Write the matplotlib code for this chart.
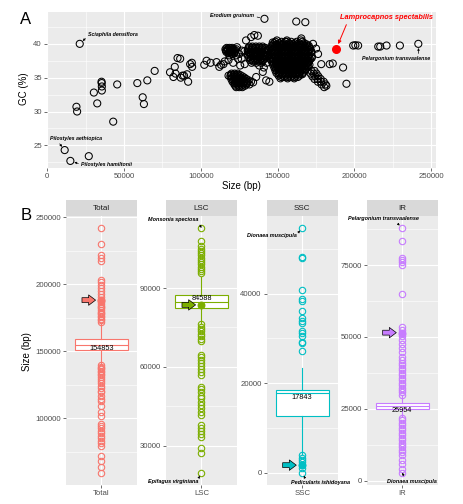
import matplotlib
matplotlib.use("Agg")
import matplotlib.pyplot as plt
from matplotlib.ticker import MultipleLocator, StrMethodFormatter

plt.rcParams['font.family'] = ['Liberation Sans', 'DejaVu Sans']

# ---------------- panel A data: plastome size (kb) vs GC (%)
sparse_pts = [
    (21.1, 40.0), (18.95, 30.7), (19.4, 30.0), (11.3, 24.3), (15.0, 22.7), (27.0, 23.4),
    (30.3, 32.8), (32.5, 31.2), (35.3, 34.4), (35.4, 34.2), (35.5, 33.7), (35.5, 33.1),
    (42.9, 28.5), (45.5, 34.0), (58.6, 34.2), (62.1, 32.1), (62.9, 31.1), (65.1, 34.6),
    (69.9, 36.0), (79.9, 35.8), (82.1, 35.1), (83.0, 36.6), (83.5, 35.6), (84.8, 37.9),
    (86.5, 37.8), (86.9, 35.0), (88.0, 35.3), (89.0, 35.3), (91.0, 35.5), (91.7, 34.4),
    (93.0, 37.0), (94.1, 37.2), (94.3, 36.6), (102.2, 36.9), (103.7, 37.5), (106.3, 37.2),
    (110.2, 37.3), (112.0, 36.6), (113.1, 36.9), (114.7, 37.0), (115.5, 37.4), (116.3, 39.0),
    (117.4, 39.2), (119.3, 38.8), (118.5, 38.3), (120.7, 39.2), (120.5, 38.5), (123.5, 39.5),
    (122.9, 38.3), (125.0, 38.5), (124.2, 37.8), (121.0, 37.2), (118.0, 37.6), (126.6, 39.0),
    (125.6, 36.8), (129.4, 40.5), (132.7, 41.0), (134.8, 41.3), (137.1, 41.2), (128.3, 38.9),
    (126.5, 37.8), (128.5, 37.0), (140.3, 35.85), (142.5, 34.6), (144.6, 34.4), (136.0, 35.1),
    (141.0, 36.5), (138.0, 36.8), (141.4, 43.7), (162.1, 43.3), (168.0, 43.2), (146.8, 40.2),
    (155.6, 40.3), (165.4, 40.8), (173.0, 40.0), (176.3, 38.5), (175.0, 39.3), (178.4, 37.0),
    (183.9, 37.0), (185.9, 37.1), (192.6, 36.5), (194.8, 34.1), (181.7, 33.8), (199.2, 39.75),
    (200.6, 39.8), (202.4, 39.75), (215.5, 39.6), (216.8, 39.6), (220.9, 39.75), (229.6, 39.75),
    (241.6, 40.0), (118.0, 35.3), (134.0, 34.3),
]

# dense clusters, written as rows: (GC, [sizes in kb])
big_rows = [
    (40.5, [149.5, 156.0, 165.2]),
    (40.3, [148.6, 152.5, 155.1, 158.8, 162.4, 166.0]),
    (40.1, [147.8, 151.2, 154.0, 157.5, 161.0, 164.0, 167.3]),
    (39.9, [147.0, 149.4, 151.6, 153.7, 155.9, 158.1, 160.3, 162.4, 164.6, 166.7, 169.1]),
    (39.7, [146.0, 148.3, 150.5, 152.6, 154.9, 157.0, 159.1, 161.4, 163.5, 165.6, 167.8, 170.3]),
    (39.5, [146.3, 148.5, 150.6, 152.7, 154.9, 157.1, 159.2, 161.4, 163.6, 165.8, 167.9, 170.2]),
    (39.3, [145.2, 147.4, 149.6, 151.7, 153.8, 156.1, 158.2, 160.4, 162.5, 164.7, 166.9, 169.0, 171.2]),
    (39.1, [146.4, 148.6, 150.7, 152.9, 155.0, 157.2, 159.4, 161.5, 163.7, 165.9, 168.0, 170.3]),
    (38.9, [145.8, 148.0, 150.2, 152.3, 154.5, 156.6, 158.8, 160.9, 163.0, 165.2, 167.4, 169.6, 171.9]),
    (38.7, [146.0, 148.2, 150.3, 152.5, 154.6, 156.8, 158.9, 161.1, 163.3, 165.4, 167.6, 169.8, 172.0]),
    (38.5, [145.0, 147.2, 149.3, 151.5, 153.6, 155.8, 157.9, 160.1, 162.2, 164.4, 166.6, 168.7, 170.8]),
    (38.3, [146.5, 148.7, 150.8, 153.0, 155.2, 157.3, 159.5, 161.6, 163.8, 166.0, 168.1, 170.3]),
    (38.1, [146.1, 148.2, 150.4, 152.6, 154.7, 156.9, 159.0, 161.2, 163.3, 165.5, 167.6, 169.8, 172.3]),
    (37.9, [146.2, 148.4, 150.5, 152.7, 154.9, 157.0, 159.2, 161.3, 163.5, 165.6, 167.8, 170.0, 172.1]),
    (37.7, [145.3, 147.5, 149.7, 151.8, 154.0, 156.1, 158.3, 160.4, 162.6, 164.7, 166.9, 169.0, 171.1]),
    (37.5, [146.8, 149.0, 151.1, 153.3, 155.5, 157.6, 159.8, 161.9, 164.1, 166.2, 168.4, 170.6]),
    (37.3, [146.4, 148.6, 150.8, 152.9, 155.1, 157.2, 159.4, 161.5, 163.7, 165.8, 168.0, 170.2]),
    (37.1, [147.6, 149.8, 151.9, 154.1, 156.2, 158.4, 160.5, 162.7, 164.8, 167.0, 169.2]),
    (36.9, [147.0, 149.2, 151.3, 153.5, 155.6, 157.8, 159.9, 162.1, 164.2, 166.4, 168.5, 170.7]),
    (36.7, [148.3, 150.5, 152.6, 154.8, 156.9, 159.1, 161.2, 163.4, 165.5, 167.7, 169.9]),
    (36.5, [147.8, 150.0, 152.1, 154.3, 156.4, 158.6, 160.7, 162.9, 165.0, 167.2, 169.4]),
    (36.3, [149.0, 151.2, 153.3, 155.5, 157.6, 159.8, 161.9, 164.1, 166.3, 168.4]),
    (36.1, [148.5, 150.7, 152.8, 155.0, 157.1, 159.3, 161.4, 163.6, 165.7, 167.9]),
    (35.9, [149.8, 151.9, 154.1, 156.2, 158.4, 160.5, 162.7, 164.8, 167.0]),
    (35.7, [149.2, 151.4, 153.5, 155.7, 157.8, 160.0, 162.1, 164.3, 166.5]),
    (35.5, [151.0, 153.2, 155.3, 157.5, 159.6, 161.8, 163.9, 166.0]),
    (35.3, [150.6, 152.9, 155.2, 157.4, 159.6, 161.9, 164.1]),
    (35.1, [152.3, 154.5, 156.7, 158.8, 161.0, 163.2]),
    (34.9, [151.8, 156.5, 160.8]),
]
mid_rows = [
    (39.6, [131.5, 133.6, 135.8, 138.0, 140.2]),
    (39.4, [131.0, 133.2, 135.4, 137.6, 139.8, 142.0]),
    (39.2, [130.8, 132.9, 135.0, 137.2, 139.4, 141.6, 143.5]),
    (39.0, [130.5, 132.6, 134.8, 137.0, 139.1, 141.3, 143.7]),
    (38.8, [131.2, 133.3, 135.5, 137.7, 139.8, 142.0]),
    (38.6, [131.8, 134.0, 136.1, 138.3, 140.5, 142.7]),
    (38.4, [130.6, 132.7, 134.9, 137.0, 139.2, 141.3, 143.4]),
    (38.2, [132.2, 134.4, 136.5, 138.7, 140.8, 143.0]),
    (38.0, [131.4, 133.6, 135.7, 137.9, 140.0, 142.2]),
    (37.8, [132.5, 134.7, 136.9, 139.0, 141.2]),
    (37.6, [132.0, 134.2, 136.3, 138.5, 140.6]),
    (37.4, [134.0, 137.4, 140.0]),
    (37.2, [133.0, 136.0, 139.2, 142.8]),
]
upper_left_rows = [
    (39.4, [116.8, 118.6, 120.4]),
    (39.2, [116.0, 117.8, 119.6, 121.4, 123.0]),
    (39.0, [117.2, 119.0, 120.8, 122.4]),
    (38.8, [116.6, 118.4, 120.2, 122.0]),
    (38.6, [117.9, 119.8, 121.6]),
]
low_rows = [
    (35.6, [120.0, 122.0, 124.0]),
    (35.4, [119.5, 121.5, 123.5, 125.5]),
    (35.2, [119.2, 121.1, 123.0, 125.0, 127.0]),
    (35.0, [120.2, 122.2, 124.2, 126.2, 128.4]),
    (34.8, [119.8, 121.7, 123.6, 125.6, 127.6, 129.6]),
    (34.6, [121.1, 123.0, 125.0, 127.0, 129.0, 131.2]),
    (34.4, [120.6, 122.5, 124.4, 126.4, 128.4, 130.4, 132.6]),
    (34.2, [122.0, 124.0, 126.0, 128.0, 130.0]),
    (34.0, [121.8, 123.7, 125.7, 127.7, 129.7, 131.6]),
    (33.8, [122.5, 124.5, 126.5, 128.6]),
    (33.6, [123.0, 125.0, 127.0]),
]
right_rows = [
    (36.0, [172.0, 174.0]),
    (35.6, [171.5, 173.4, 175.3]),
    (35.2, [172.6, 174.6, 176.5]),
    (34.8, [174.0, 176.0, 178.0]),
    (34.4, [176.2, 178.1, 180.0]),
    (34.0, [178.6, 181.2]),
    (33.6, [180.3]),
]
lampro_pt = (188.2, 39.3)

# ---------------- panel B data: region sizes (bp)
facets = ['Total', 'LSC', 'SSC', 'IR']
colors = ['#F8766D', '#7CAE00', '#00BFC4', '#C77CFF']
box_q1 = [150700, 82500, 12700, 25000]
box_med = [154853, 84588, 17843, 25954]
box_q3 = [159500, 87300, 18450, 26950]
whisk_lo = [140800, 76800, 4100, 22100]
whisk_hi = [170800, 94400, 23500, 29800]
out_total = [242000, 230000, 222000, 219500, 217000, 203200, 201500, 199500, 197500, 195000,
             192500, 190700, 188400, 187300, 186500, 185200, 184000, 183100, 182000, 180800,
             179600, 178900, 177700, 176500, 175400, 174300, 173200, 172100,
             139800, 138700, 137900, 136800, 135700, 134500, 133400, 132100, 130800, 129200,
             127600, 126100, 124300, 122500, 120800, 119500, 117000, 114800, 113300, 109500,
             104500, 102000, 95800, 94200, 92500, 90600, 89000, 87200, 85100, 83300, 81400,
             79500, 72000, 68000, 64000, 59500]
out_lsc = [112900, 107800, 105900, 105000, 104200, 103300, 102500, 101600, 100700, 99900,
           99000, 98200, 97300, 96500, 95600, 76200, 75300, 74400, 73500, 72600, 71700,
           70800, 70000, 64600, 63700, 62600, 61500, 60400, 59300, 58100, 57000, 52500,
           51400, 50300, 49100, 48000, 46800, 45500, 44200, 43000, 41700, 37900, 36800,
           35600, 34500, 33400, 29000, 27100, 19700]
out_ssc = [54700, 48300, 48000, 40850, 38800, 38400, 36100, 34600, 34000, 33400, 31700,
           31200, 30600, 29300, 29000, 27300, 3900, 3400, 2900, 2300, 1700, 1100, 0]
out_ir = [87900, 83200, 77600, 76800, 76000, 74900, 64900, 53600, 52500, 51200, 50300,
          49000, 47500, 46100, 44900, 43200, 42000, 40900, 40100, 39200, 38400, 37500,
          36700, 35800, 35000, 34100, 33300, 32400, 31600, 30800, 30000, 21800, 21000,
          20100, 19300, 18400, 17600, 16700, 15900, 15000, 14200, 13300, 12500, 11600,
          10800, 9900, 9000, 7200, 5700, 4100, 2800]
outliers = [out_total, out_lsc, out_ssc, out_ir]
lampro_vals = [188200, 83600, 1700, 51500]
y_major = [50000, 30000, 20000, 25000]


def gg_style(ax):
    ax.set_facecolor('#EBEBEB')
    for s in ax.spines.values():
        s.set_visible(False)
    ax.grid(which='major', color='white', lw=0.8)
    ax.grid(which='minor', color='white', lw=0.4)
    ax.set_axisbelow(True)
    ax.tick_params(which='major', length=2.2, width=0.5, color='#333333',
                   labelcolor='#4D4D4D', labelsize=5.6, pad=1.5)
    ax.tick_params(which='minor', length=0)


def expand(vals):
    lo, hi = min(vals), max(vals)
    pad = 0.05 * (hi - lo)
    return lo - pad, hi + pad


W, H = 464, 504
fig = plt.figure(figsize=(W / 100, H / 100), dpi=100)

# ---------------- panel A
axA = fig.add_axes([47 / W, 1 - 168 / H, (436 - 47) / W, (168 - 11.7) / H])
gg_style(axA)
xs, ys = [], []
for x, y in sparse_pts:
    xs.append(x)
    ys.append(y)
for rows in (big_rows, mid_rows, upper_left_rows, low_rows, right_rows):
    for y, row in rows:
        xs.extend(row)
        ys.extend([y] * len(row))
xs_bp = [v * 1000 for v in xs]
axA.scatter(xs_bp, ys, s=26, facecolors='none', edgecolors='black', linewidths=0.75, zorder=3)
axA.scatter([lampro_pt[0] * 1000], [lampro_pt[1]], s=30, color='#FF0000', zorder=4)
axA.set_xlim(*expand(xs_bp))
axA.set_ylim(*expand(ys))
axA.xaxis.set_major_locator(MultipleLocator(50000))
axA.xaxis.set_minor_locator(MultipleLocator(25000))
axA.yaxis.set_major_locator(MultipleLocator(5))
axA.yaxis.set_minor_locator(MultipleLocator(2.5))
axA.xaxis.set_major_formatter(StrMethodFormatter('{x:.0f}'))

lab_kw = dict(fontsize=3.8, fontstyle='italic', fontweight='bold', va='center',
              annotation_clip=False)
arr = dict(arrowstyle='-|>', lw=0.5, color='black', mutation_scale=3, shrinkA=0, shrinkB=3)
axA.annotate('Sciaphila densiflora', xy=(21100, 40.0), xytext=(26600, 41.4), ha='left',
             arrowprops=dict(arr, relpos=(0, 0.2)), **lab_kw)
axA.annotate('Pilostyles aethiopica', xy=(11300, 24.3), xytext=(1500, 26.0), ha='left',
             arrowprops=dict(arr, relpos=(0.15, 0)), **lab_kw)
axA.annotate('Pilostyles hamiltonii', xy=(15000, 22.7), xytext=(22000, 22.1), ha='left',
             arrowprops=dict(arr, relpos=(0, 0.6)), **lab_kw)
axA.annotate('Erodium gruinum', xy=(141400, 43.7), xytext=(134800, 44.2), ha='right',
             arrowprops=dict(arrowstyle='-', lw=0.5, color='black', relpos=(1, 0.3),
                             shrinkA=0, shrinkB=3.5), **lab_kw)
axA.annotate('Pelargonium transvaalense', xy=(241600, 40.0), xytext=(227200, 37.8),
             ha='center', arrowprops=dict(arr, relpos=(0.83, 1)), **lab_kw)
axA.annotate('Lamprocapnos spectabilis', xy=(lampro_pt[0] * 1000, lampro_pt[1]),
             xytext=(190400, 43.95), ha='left', color='#FF0000', fontsize=5.3,
             fontstyle='italic', fontweight='bold', va='center',
             arrowprops=dict(arrowstyle='-|>', lw=0.7, color='#FF0000', mutation_scale=5,
                             relpos=(0.09, 0), shrinkA=1, shrinkB=3.5))

fig.text(241 / W, 1 - 186 / H, 'Size (bp)', ha='center', va='center', fontsize=7, color='black')
fig.text(24 / W, 1 - 89 / H, 'GC (%)', ha='center', va='center', rotation=90, fontsize=7)
fig.text(26 / W, 1 - 19 / H, 'A', ha='center', va='center', fontsize=12)
fig.text(26 / W, 1 - 215 / H, 'B', ha='center', va='center', fontsize=12)
fig.text(27 / W, 1 - 352 / H, 'Size (bp)', ha='center', va='center', rotation=90, fontsize=7)

# ---------------- panel B
lefts = [66, 166, 266.7, 366.7]
med_offsets = [-2.4, 3.0, -3.6, -3.0]
bot, top = 485, 215.7
for i, name in enumerate(facets):
    col = colors[i]
    ax = fig.add_axes([lefts[i] / W, 1 - bot / H, 71 / W, (bot - top) / H])
    gg_style(ax)
    strip = fig.add_axes([lefts[i] / W, 1 - top / H, 71 / W, 15.7 / H])
    strip.set_facecolor('#D9D9D9')
    strip.set_xticks([])
    strip.set_yticks([])
    for s in strip.spines.values():
        s.set_visible(False)
    strip.text(0.5, 0.45, name, ha='center', va='center', fontsize=5.8, color='#1A1A1A',
               transform=strip.transAxes)

    stats = [dict(q1=box_q1[i], med=box_med[i], q3=box_q3[i], whislo=whisk_lo[i],
                  whishi=whisk_hi[i], fliers=outliers[i])]
    ax.bxp(stats, positions=[1], widths=0.9, patch_artist=True, showcaps=False,
           boxprops=dict(facecolor='white', edgecolor=col, lw=0.8),
           medianprops=dict(color=col, lw=0.8),
           whiskerprops=dict(color=col, lw=0.8),
           flierprops=dict(marker='o', mfc='none', mec=col, ms=4.6, mew=0.8),
           zorder=3)
    ax.scatter([1], [lampro_vals[i]], s=22, color=col, zorder=5)
    ax.annotate(str(box_med[i]), xy=(1, box_med[i]), xytext=(0, med_offsets[i]),
                textcoords='offset points', ha='center', va='center', fontsize=5.3,
                color='black', zorder=6)
    ax.annotate('', xy=(0.9, lampro_vals[i]), xytext=(0.67, lampro_vals[i]),
                arrowprops=dict(arrowstyle='simple,head_length=0.5,head_width=0.75,tail_width=0.35',
                                fc=col, ec='black', lw=0.5, mutation_scale=10,
                                shrinkA=0, shrinkB=0), zorder=6)

    all_vals = outliers[i] + [whisk_lo[i], whisk_hi[i]]
    ax.set_ylim(*expand(all_vals))
    ax.set_xlim(0.4, 1.6)
    ax.set_xticks([1])
    ax.set_xticklabels([name])
    ax.yaxis.set_major_locator(MultipleLocator(y_major[i]))
    ax.yaxis.set_minor_locator(MultipleLocator(y_major[i] / 2))
    ax.yaxis.set_major_formatter(StrMethodFormatter('{x:.0f}'))
    ax.xaxis.grid(True, which='major', color='white', lw=0.8)

    b_kw = dict(fontsize=4.0, fontstyle='italic', fontweight='bold', va='center',
                annotation_clip=False)
    b_arr = dict(arrowstyle='-|>', lw=0.5, color='black', mutation_scale=3, shrinkA=0, shrinkB=2.5)
    if name == 'LSC':
        ax.annotate('Monsonia speciosa', xy=(1, max(out_lsc)), xytext=(0.946, 116000), ha='right',
                    arrowprops=dict(b_arr, relpos=(1, 0)), **b_kw)
        ax.annotate('Epifagus virginiana', xy=(1, min(out_lsc)), xytext=(0.946, 16500), ha='right',
                    arrowprops=dict(b_arr, relpos=(1, 1)), **b_kw)
    elif name == 'SSC':
        ax.annotate('Dionaea muscipula', xy=(1, max(out_ssc)), xytext=(0.907, 52900), ha='right',
                    arrowprops=dict(b_arr, relpos=(1, 0.8)), **b_kw)
        ax.annotate('Pedicularis ishidoyana', xy=(1, min(out_ssc)), xytext=(0.81, -2080), ha='left',
                    arrowprops=dict(b_arr, relpos=(0.25, 1)), **b_kw)
    elif name == 'IR':
        ax.annotate('Pelargonium transvaalense', xy=(1, max(out_ir)), xytext=(0.678, 91100),
                    ha='center', arrowprops=dict(b_arr, relpos=(0.67, 0)), **b_kw)
        ax.annotate('Dionaea muscipula', xy=(1, min(out_ir)), xytext=(0.735, -100), ha='left',
                    arrowprops=dict(b_arr, relpos=(0.375, 1)), **b_kw)

fig.savefig('out.png', dpi=100)
